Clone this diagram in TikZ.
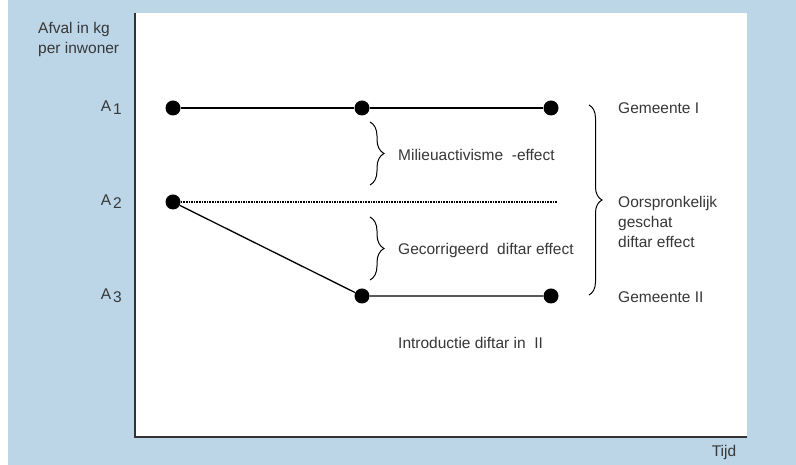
\documentclass[tikz,border=0pt]{standalone}
\usepackage{fontspec}
\setmainfont{Liberation Sans}
\usepackage{tikz}
\usetikzlibrary{decorations.pathreplacing}
\definecolor{panelblue}{RGB}{188,214,232}
\definecolor{textgray}{RGB}{55,55,55}

\begin{document}
\begin{tikzpicture}[
			x = 1pt, y = 1pt,
			every node/.style = {text=textgray, font=\fontsize{15.5}{20}\selectfont, inner sep=0pt},
			dot/.style = {circle, fill=black, minimum size=15pt},
			bracel/.style = {decorate, decoration={brace, amplitude=#1}, line width=1pt},
			]

			\useasboundingbox (0,0) rectangle (796,465);
			\fill[white] (0,0) rectangle (796,465);
			\fill[panelblue] (8,0) rectangle (796,465);
			\fill[white] (135,28) rectangle (747,452);

			\coordinate (ytop) at (135,452);
			\coordinate (orig) at (135,28);
			\coordinate (xend) at (747,28);
			\draw[line width=1.6pt, black!80] (ytop) -- (orig) -- (xend);

			\node[align=left, anchor=west] (ylab) at (38,425) {Afval in kg\\per inwoner};
			\node (xlab) at (724,13) {Tijd};

			\node[anchor=east] (la1) at (122,357) {A\hspace{2pt}\raisebox{-3pt}{1}};
			\node[anchor=east] (la2) at (122,263) {A\hspace{2pt}\raisebox{-3pt}{2}};
			\node[anchor=east] (la3) at (122,169) {A\hspace{2pt}\raisebox{-3pt}{3}};

			\node[dot] (a1) at (173,357) {};
			\node[dot] (b1) at (362,357) {};
			\node[dot] (c1) at (551,357) {};
			\node[dot] (a2) at (173,263) {};
			\coordinate (c2) at (557,263);
			\node[dot] (b3) at (362,169) {};
			\node[dot] (c3) at (551,169) {};

			\draw[line width=1.3pt] (a1) -- (b1) -- (c1);
			\draw[line width=1.6pt, densely dotted] (a2) -- (c2);
			\draw[line width=1.3pt] (a2) -- (b3) -- (c3);

			\draw[bracel=14pt] (370,343) -- (370,280);
			\draw[bracel=14pt] (370,248) -- (370,185);
			\draw[bracel=13pt] (589,360) -- (589,170);

			\node[anchor=west] (mil) at (398,310) {Milieuactivisme\ \ -effect};
			\node[anchor=west] (gec) at (398,215) {Gecorrigeerd\ \ diftar effect};
			\node[anchor=west] (intro) at (398,122) {Introductie diftar in\ \ II};

			\node[anchor=west] (gem1) at (618,357) {Gemeente I};
			\node[anchor=west, align=left] (oors) at (618,243) {Oorspronkelijk\\geschat\\diftar effect};
			\node[anchor=west] (gem2) at (618,168) {Gemeente II};

		\end{tikzpicture}
\end{document}
